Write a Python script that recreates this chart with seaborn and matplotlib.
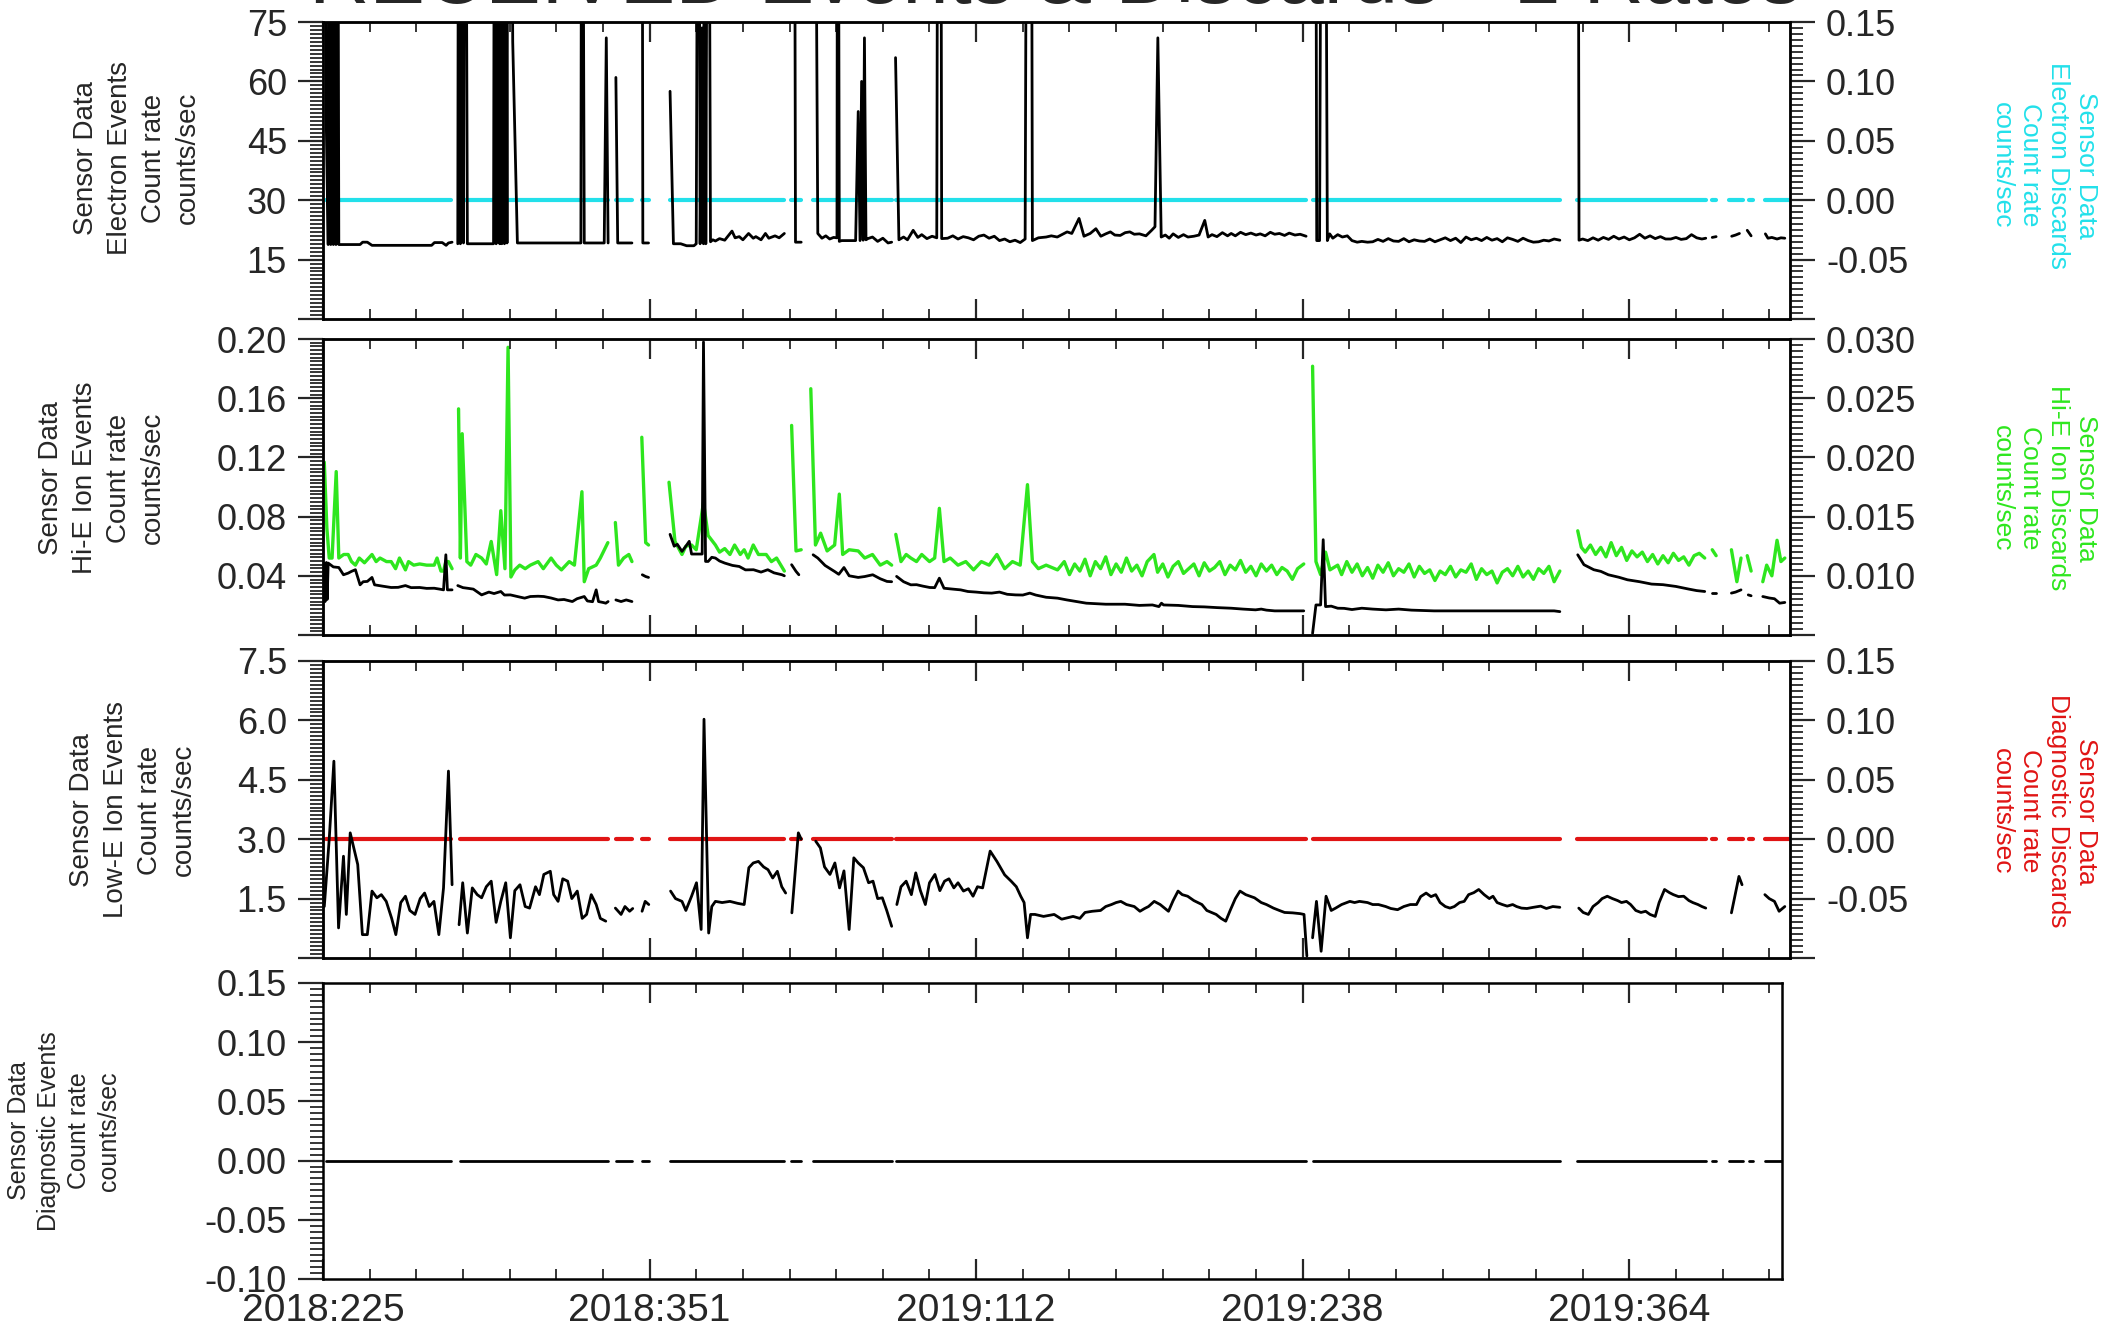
import numpy as np
import pandas as pd
import matplotlib
matplotlib.use("Agg")
import matplotlib.pyplot as plt
from matplotlib.ticker import MultipleLocator
import seaborn as sns

nan = np.nan
G = (nan, nan)  # data gap

# x axis = days after 2018:225
tick_days = [0, 126, 252, 378, 504]
tick_labels = ["2018:225", "2018:351", "2019:112", "2019:238", "2019:364"]
x_end = 566

title = "RECEIVED Events & Discards - 1 Rates"

# discards and diagnostic events are zero wherever data exist
zero_rate = [
    (1.0, 0), (49.5, 0), G, (52.8, 0), (110.0, 0), G, (113.0, 0), (119.2, 0), G,
    (123.0, 0), (125.6, 0), G, (133.9, 0), (178.0, 0), G, (180.5, 0), (184.5, 0), G,
    (189.0, 0), (219.4, 0), G, (221.0, 0), (379.3, 0), G, (381.8, 0), (477.2, 0), G,
    (484.0, 0), (533.5, 0), G, (535.8, 0), (537.6, 0), G, (542.5, 0), (548.0, 0), G,
    (550.0, 0), (551.8, 0), G, (556.5, 0), (566.0, 0),
]

# panel 1 - electron events (counts/sec), 200 = off scale
electron_events = [
    (0.3, 200), (1.2, 52), (2.0, 18.8), (2.5, 200), (3.0, 18.8), (3.5, 200),
    (4.0, 18.8), (4.5, 200), (5.0, 18.8), (5.5, 200), (6.1, 18.8), (14.3, 18.8),
    (15.3, 19.4), (17.1, 19.4), (18.9, 18.6), (30.0, 18.6), (41.9, 18.6),
    (43.0, 19.3), (46.0, 19.3), (47.5, 18.6), (48.4, 19.2), (49.8, 19.4), G,
    (52.0, 19.0), (52.4, 200), (53.0, 19.0), (53.5, 200), (54.2, 19.2), (54.8, 200),
    (55.7, 19.0), (60.0, 19.0), (65.8, 19.0), (66.3, 200), (66.8, 19.0), (67.7, 200),
    (68.2, 19.0), (68.6, 200), (69.0, 19.0), (69.5, 200), (70.0, 19.0), (70.4, 200),
    (71.0, 19.2), (71.4, 200), (72.3, 200), (73.2, 70), (75.0, 19.2), (99.5, 19.2),
    (99.9, 200), (100.8, 19.2), (108.5, 19.2), (109.3, 71), (110.0, 19.2), G,
    (113.0, 61), (113.7, 19.2), (119.2, 19.2), G,
    (123.0, 200), (123.4, 19.2), (125.6, 19.2), G,
    (133.9, 57.5), (135.2, 19.0), (138.0, 19.0), (140.3, 18.5), (143.1, 18.5),
    (144.0, 19.0), (144.9, 200), (145.5, 19.0), (146.2, 73.5), (146.8, 19.0),
    (147.3, 200), (147.7, 19.0), (148.6, 200), (149.5, 19.5), (150.4, 20.0),
    (151.4, 19.7), (153.0, 20.3), (155.0, 19.9), (157.8, 22.2), (159.0, 20.5),
    (160.6, 20.8), (162.0, 20.0), (164.2, 21.6), (166.0, 20.4), (167.0, 20.8),
    (169.0, 20.0), (170.7, 21.6), (172.0, 20.4), (174.4, 21.0), (176.0, 20.5),
    (178.0, 21.6), G,
    (181.7, 200), (182.3, 19.4), (184.5, 19.4), G,
    (189.4, 200), (190.9, 21.6), (192.5, 20.4), (194.0, 21.0), (195.5, 20.2),
    (197.0, 20.6), (198.3, 20.5), (198.6, 200), (199.2, 19.6), (200.1, 19.8),
    (204.0, 19.8), (205.5, 19.8), (206.5, 52.4), (207.2, 19.8), (207.8, 60),
    (208.4, 19.9), (208.9, 71), (209.5, 20.0), (210.2, 20.3), (212.0, 20.7),
    (214.0, 19.6), (216.0, 20.4), (218.0, 19.2), (219.4, 19.4), G,
    (220.9, 66), (222.2, 20.0), (224.0, 20.7), (225.5, 20.0), (227.7, 22.4),
    (229.5, 20.6), (231.0, 21.3), (233.0, 20.3), (235.0, 20.9), (236.8, 20.5),
    (237.4, 200), (238.2, 200), (238.7, 20.3), (241.0, 20.4), (243.0, 21.0),
    (245.0, 20.2), (247.0, 20.8), (249.0, 20.5), (251.0, 20.0), (253.0, 20.9),
    (255.0, 21.2), (257.0, 20.4), (259.0, 20.9), (261.0, 19.8), (263.0, 20.2),
    (265.0, 19.5), (267.0, 19.9), (269.0, 19.3), (270.9, 20.2), (271.8, 200),
    (273.1, 200), (273.7, 19.8), (276.0, 20.5), (279.0, 20.7), (281.0, 21.0),
    (283.3, 20.7), (287.1, 22.0), (288.9, 21.6), (291.7, 25.4), (293.6, 20.9),
    (296.0, 21.6), (298.2, 22.8), (300.1, 20.9), (302.0, 21.5), (303.8, 22.0),
    (305.5, 21.2), (307.6, 21.1), (309.5, 21.8), (311.3, 22.0), (313.0, 21.4),
    (315.0, 21.5), (317.5, 21.0), (319.7, 22.4), (321.0, 23.3), (322.1, 71),
    (323.4, 20.7), (325.0, 21.2), (326.5, 20.4), (328.0, 21.5), (330.0, 20.6),
    (332.0, 21.3), (333.7, 20.7), (336.0, 20.9), (338.0, 21.2), (340.2, 24.9),
    (341.5, 20.7), (343.0, 21.3), (344.9, 20.8), (347.0, 21.8), (349.0, 21.0),
    (350.4, 21.6), (352.0, 21.0), (354.0, 21.9), (356.0, 21.3), (358.0, 21.7),
    (360.0, 21.2), (361.6, 21.5), (363.5, 21.0), (365.5, 21.9), (367.2, 21.4),
    (369.0, 21.6), (371.0, 21.1), (372.8, 21.7), (375.0, 21.2), (377.0, 21.4),
    (379.3, 20.9), G,
    (381.8, 200), (382.8, 200), (383.4, 19.8), (384.5, 19.8), (385.5, 200),
    (386.4, 200), (387.5, 19.8), (388.4, 21.5), (389.6, 20.4), (391.5, 21.3),
    (393.3, 20.7), (395.2, 21.0), (397.0, 19.8), (399.0, 19.4), (400.8, 19.6),
    (403.0, 19.4), (405.0, 19.5), (407.0, 20.1), (409.0, 19.6), (411.0, 20.3),
    (413.0, 19.7), (415.0, 19.6), (417.0, 20.3), (419.0, 19.5), (421.0, 20.0),
    (423.0, 19.7), (425.0, 19.6), (427.0, 20.2), (429.0, 19.5), (431.0, 20.0),
    (433.0, 20.5), (435.0, 19.8), (437.0, 20.4), (439.0, 19.3), (441.0, 20.7),
    (443.0, 20.0), (445.0, 20.4), (447.0, 19.8), (449.0, 20.6), (451.0, 19.9),
    (453.0, 20.3), (455.0, 19.5), (457.0, 20.5), (459.0, 20.1), (461.0, 19.6),
    (463.0, 20.4), (465.0, 19.8), (467.0, 19.4), (469.0, 19.5), (471.0, 19.9),
    (473.0, 19.7), (475.0, 20.2), (477.2, 19.9), G,
    (484.1, 200), (484.6, 19.9), (486.0, 20.2), (488.0, 19.8), (490.0, 20.5),
    (492.0, 19.9), (494.0, 20.6), (496.0, 20.1), (498.0, 20.9), (500.0, 20.2),
    (502.0, 20.7), (504.0, 20.0), (506.0, 20.5), (508.0, 21.4), (510.0, 20.4),
    (512.0, 21.0), (514.0, 20.3), (516.0, 20.8), (518.0, 20.2), (520.0, 20.2),
    (522.0, 20.6), (524.0, 20.1), (526.0, 20.3), (528.0, 21.3), (530.0, 20.5),
    (532.0, 20.2), (533.5, 20.4), G,
    (536.0, 20.6), (537.5, 20.8), G, (543.5, 20.9), (545.0, 21.2), (546.5, 21.6), G,
    (549.5, 22.4), (551.0, 21.0), G, (556.5, 21.5), (557.5, 20.4), (559.0, 20.6),
    (561.0, 20.2), (562.5, 20.5), (564.0, 20.4),
]

# panel 2 - Hi-E ion events (left axis)
hie_events = [
    (0.3, 0.0486), (0.8, 0.0226), (1.3, 0.049), (1.6, 0.024), (2.0, 0.0486),
    (4.0, 0.046), (6.1, 0.0456), (7.9, 0.0407), (9.7, 0.0418), (11.0, 0.043),
    (12.5, 0.0441), (14.3, 0.0339), (15.5, 0.036), (17.1, 0.0362), (18.9, 0.0389),
    (19.9, 0.0339), (23.0, 0.033), (26.3, 0.0321), (29.0, 0.0322), (31.8, 0.0334),
    (34.0, 0.032), (37.3, 0.0321), (40.0, 0.0315), (42.9, 0.0316), (45.0, 0.031),
    (46.5, 0.0305), (47.4, 0.0542), (48.0, 0.0305), (49.8, 0.0305), G,
    (52.0, 0.0334), (54.0, 0.032), (55.7, 0.0316), (58.0, 0.031), (61.2, 0.0271),
    (64.0, 0.029), (66.0, 0.028), (68.6, 0.0294), (70.0, 0.027), (72.3, 0.0271),
    (75.0, 0.026), (77.8, 0.0249), (80.0, 0.026), (83.0, 0.0262), (85.2, 0.026),
    (88.0, 0.025), (90.7, 0.0237), (93.0, 0.024), (96.2, 0.0226), (98.0, 0.0245),
    (100.8, 0.026), (102.0, 0.023), (104.0, 0.0225), (105.4, 0.0305),
    (106.3, 0.0226), (108.0, 0.022), (109.1, 0.0215), (110.0, 0.0226), G,
    (113.0, 0.0237), (115.0, 0.0226), (117.0, 0.0237), (119.2, 0.0226), G,
    (123.2, 0.0407), (124.5, 0.0395), (125.6, 0.0389), G,
    (133.9, 0.068), (135.5, 0.060), (136.7, 0.0613), (138.5, 0.0565), (140.0, 0.060),
    (141.3, 0.0633), (142.2, 0.0547), (144.0, 0.0547), (146.3, 0.0547),
    (146.8, 0.198), (147.6, 0.0497), (148.6, 0.0497), (150.0, 0.0525),
    (151.4, 0.0520), (153.0, 0.050), (155.0, 0.0486), (158.0, 0.047),
    (160.6, 0.0463), (163.0, 0.044), (166.1, 0.0441), (169.0, 0.0425),
    (171.6, 0.0441), (174.0, 0.042), (177.1, 0.0407), (178.0, 0.040), G,
    (180.8, 0.0475), (182.5, 0.043), (183.6, 0.0407), G,
    (189.1, 0.0542), (190.9, 0.052), (193.7, 0.047), (195.5, 0.045), (197.4, 0.0429),
    (199.0, 0.041), (201.0, 0.0456), (203.0, 0.040), (206.5, 0.0389),
    (209.0, 0.0395), (212.1, 0.0407), (215.0, 0.038), (217.6, 0.0362),
    (219.4, 0.036), G,
    (221.3, 0.0396), (224.0, 0.036), (226.8, 0.0339), (229.0, 0.034),
    (231.5, 0.033), (234.1, 0.0321), (236.0, 0.032), (237.8, 0.0384),
    (239.6, 0.0316), (243.0, 0.031), (246.0, 0.0305), (248.8, 0.0294),
    (252.0, 0.029), (255.0, 0.0285), (258.0, 0.0283), (261.0, 0.029),
    (264.0, 0.0275), (267.2, 0.0271), (270.0, 0.027), (272.7, 0.0283),
    (275.0, 0.027), (279.0, 0.0255), (283.4, 0.0249), (287.0, 0.0237),
    (294.5, 0.0215), (302.0, 0.0208), (309.4, 0.0208), (315.0, 0.020),
    (320.0, 0.0203), (322.5, 0.0192), (323.5, 0.0215), (324.3, 0.0203),
    (330.0, 0.0200), (335.5, 0.0192), (340.0, 0.019), (345.0, 0.0185),
    (350.4, 0.0181), (355.0, 0.0175), (359.8, 0.017), (362.0, 0.0175),
    (364.0, 0.0168), (367.2, 0.0163), (372.0, 0.0163), (378.4, 0.0163), G,
    (381.8, 0.0011), (383.1, 0.0203), (384.9, 0.0203), (385.9, 0.0644),
    (386.8, 0.0192), (389.0, 0.0195), (391.5, 0.0181), (394.0, 0.018),
    (397.0, 0.0172), (400.8, 0.0181), (405.0, 0.0175), (410.1, 0.017),
    (415.0, 0.0175), (420.0, 0.0168), (428.7, 0.0163), (440.0, 0.0163),
    (447.4, 0.0163), (460.0, 0.0163), (466.0, 0.0163), (475.0, 0.0163),
    (477.2, 0.0158), G,
    (484.1, 0.0542), (486.5, 0.0475), (490.3, 0.0441), (493.0, 0.043),
    (495.9, 0.0407), (500.0, 0.039), (503.3, 0.0373), (508.0, 0.036),
    (512.6, 0.0344), (517.0, 0.034), (522.0, 0.0328), (527.0, 0.031),
    (530.0, 0.030), (533.1, 0.0294), G,
    (536.0, 0.0283), (537.5, 0.0283), G, (543.4, 0.0283), (545.0, 0.029),
    (547.1, 0.0305), G, (549.9, 0.0271), (551.0, 0.0265), G, (555.5, 0.026),
    (558.0, 0.025), (560.0, 0.0245), (562.0, 0.0215), (564.0, 0.022),
]

# panel 2 - Hi-E ion discards (right axis)
hie_discards = [
    (0.5, 0.0196), (1.5, 0.0140), (2.4, 0.0115), (3.5, 0.0115), (5.1, 0.0188),
    (6.1, 0.0115), (8.0, 0.0118), (9.7, 0.0118), (11.0, 0.0112), (12.5, 0.0109),
    (14.0, 0.0115), (16.0, 0.0111), (18.9, 0.0118), (20.5, 0.0112), (22.0, 0.0115),
    (24.5, 0.0112), (26.3, 0.0112), (28.0, 0.0106), (29.5, 0.0115), (31.8, 0.0105),
    (33.0, 0.0112), (35.0, 0.0109), (37.3, 0.0110), (40.0, 0.0109), (42.9, 0.0109),
    (44.0, 0.0115), (45.5, 0.0104), (46.5, 0.0104), (47.4, 0.0112), (48.4, 0.0112),
    (49.8, 0.0106), G,
    (52.3, 0.0241), (53.0, 0.0115), (53.7, 0.0220), (55.5, 0.0112), (57.0, 0.0109),
    (59.0, 0.0118), (61.2, 0.0115), (63.0, 0.0110), (64.9, 0.0129), (67.0, 0.0101),
    (68.6, 0.0155), (70.2, 0.0106), (71.4, 0.0293), (72.5, 0.0099), (74.0, 0.0105),
    (75.9, 0.0109), (78.0, 0.0106), (80.0, 0.0109), (83.0, 0.0112), (85.0, 0.0106),
    (88.0, 0.0115), (90.0, 0.0109), (92.0, 0.0105), (95.0, 0.0112), (97.0, 0.0109),
    (99.9, 0.0171), (100.8, 0.0095), (102.5, 0.0106), (105.4, 0.0109),
    (107.0, 0.0115), (109.9, 0.0128), G,
    (112.8, 0.0145), (114.0, 0.0109), (116.0, 0.0115), (118.0, 0.0118),
    (119.2, 0.0112), G,
    (123.0, 0.0217), (124.5, 0.0128), (125.6, 0.0126), G,
    (133.5, 0.0179), (135.8, 0.0129), (138.5, 0.0118), (140.0, 0.0125),
    (142.2, 0.0126), (144.0, 0.0122), (146.8, 0.0162), (148.6, 0.0134),
    (151.4, 0.0126), (153.0, 0.0120), (155.0, 0.0123), (157.0, 0.0118),
    (158.8, 0.0126), (161.0, 0.0118), (162.5, 0.0122), (164.0, 0.0115),
    (166.0, 0.0126), (168.0, 0.0118), (171.0, 0.0118), (173.0, 0.0112),
    (175.0, 0.0115), (178.0, 0.0104), G,
    (180.8, 0.0227), (182.5, 0.0121), (184.5, 0.0122), G,
    (188.2, 0.0258), (190.0, 0.0126), (192.0, 0.0136), (194.5, 0.0121),
    (197.4, 0.0126), (199.2, 0.0169), (200.5, 0.0118), (203.0, 0.0122),
    (206.5, 0.0121), (209.0, 0.0115), (212.0, 0.0118), (215.0, 0.0109),
    (217.6, 0.0112), (219.4, 0.0109), G,
    (221.0, 0.0135), (223.0, 0.0112), (225.0, 0.0118), (226.8, 0.0115),
    (229.0, 0.0112), (231.0, 0.0118), (234.0, 0.0112), (236.0, 0.0115),
    (237.8, 0.0157), (239.6, 0.0112), (242.0, 0.0115), (245.0, 0.0109),
    (248.0, 0.0112), (251.0, 0.0105), (254.0, 0.0112), (257.0, 0.0109),
    (260.0, 0.0118), (263.0, 0.0106), (266.0, 0.0112), (269.0, 0.0109),
    (271.8, 0.0177), (273.7, 0.0112), (276.0, 0.0106), (279.0, 0.0109),
    (283.4, 0.0105), (286.0, 0.0112), (288.0, 0.0101), (290.0, 0.0110),
    (292.0, 0.0104), (294.0, 0.0114), (296.0, 0.0100), (298.0, 0.0112),
    (300.0, 0.0106), (302.0, 0.0116), (304.0, 0.0101), (306.0, 0.0110),
    (308.0, 0.0103), (310.0, 0.0115), (312.0, 0.0104), (314.0, 0.0109),
    (316.0, 0.0100), (318.0, 0.0112), (320.6, 0.0118), (322.0, 0.0103),
    (324.0, 0.0110), (326.0, 0.0099), (328.0, 0.0108), (330.0, 0.0112),
    (332.0, 0.0102), (334.0, 0.0106), (336.0, 0.0110), (338.0, 0.0100),
    (340.0, 0.0111), (342.0, 0.0104), (344.0, 0.0107), (346.0, 0.0112),
    (348.0, 0.0101), (350.0, 0.0109), (352.0, 0.0105), (354.0, 0.0113),
    (356.0, 0.0103), (358.0, 0.0108), (360.0, 0.0100), (362.0, 0.0110),
    (364.0, 0.0104), (366.0, 0.0109), (368.0, 0.0101), (370.0, 0.0107),
    (372.0, 0.0104), (374.0, 0.0097), (376.0, 0.0106), (378.4, 0.0110), G,
    (381.8, 0.0277), (383.1, 0.0112), (384.9, 0.0101), (386.8, 0.0120),
    (388.5, 0.0105), (391.5, 0.0109), (393.0, 0.0101), (395.0, 0.0112),
    (397.0, 0.0103), (399.0, 0.0110), (401.0, 0.0100), (403.0, 0.0107),
    (405.0, 0.0098), (407.0, 0.0109), (409.0, 0.0103), (411.0, 0.0111),
    (413.0, 0.0100), (415.0, 0.0106), (417.0, 0.0103), (419.0, 0.0110),
    (421.0, 0.0099), (423.0, 0.0108), (425.0, 0.0102), (427.0, 0.0105),
    (429.0, 0.0096), (431.0, 0.0104), (433.0, 0.0101), (435.0, 0.0108),
    (437.0, 0.0099), (439.0, 0.0105), (441.0, 0.0103), (443.0, 0.0110),
    (445.0, 0.0097), (447.0, 0.0106), (449.0, 0.0101), (451.0, 0.0104),
    (453.0, 0.0094), (455.0, 0.0103), (457.0, 0.0106), (459.0, 0.0100),
    (461.0, 0.0108), (463.0, 0.0099), (465.0, 0.0104), (467.0, 0.0097),
    (469.0, 0.0106), (471.0, 0.0102), (473.0, 0.0108), (475.0, 0.0095),
    (477.2, 0.0104), G,
    (484.1, 0.0138), (485.5, 0.0124), (487.0, 0.0120), (489.0, 0.0126),
    (491.0, 0.0118), (493.0, 0.0124), (495.0, 0.0116), (497.0, 0.0128),
    (499.0, 0.0117), (501.0, 0.0124), (503.0, 0.0113), (505.0, 0.0121),
    (507.0, 0.0116), (509.0, 0.0120), (511.0, 0.0112), (513.0, 0.0118),
    (515.0, 0.0110), (517.0, 0.0117), (519.0, 0.0111), (521.0, 0.0119),
    (523.0, 0.0113), (525.0, 0.0116), (527.0, 0.0109), (529.0, 0.0117),
    (531.0, 0.0119), (533.1, 0.0115), G,
    (536.0, 0.0122), (537.5, 0.0117), G, (543.4, 0.0122), (545.5, 0.0095),
    (547.1, 0.0115), G, (549.5, 0.0117), (551.0, 0.0104), G, (555.5, 0.0095),
    (557.0, 0.0109), (559.0, 0.0100), (561.0, 0.0130), (562.5, 0.0112),
    (564.0, 0.0115),
]

# panel 3 - Low-E ion events (left axis)
loe_events = [
    (0.5, 1.3), (2.4, 3.0), (4.2, 4.97), (6.0, 0.76), (7.9, 2.57), (9.0, 1.10),
    (10.5, 3.16), (13.4, 2.36), (15.2, 0.59), (17.1, 0.59), (18.9, 1.69),
    (20.8, 1.52), (22.5, 1.60), (24.4, 1.43), (26.5, 1.0), (28.1, 0.59),
    (30.0, 1.4), (31.8, 1.56), (33.5, 1.2), (35.5, 1.10), (37.5, 1.5),
    (39.2, 1.64), (41.0, 1.3), (42.8, 1.43), (44.7, 0.59), (46.5, 1.77),
    (48.4, 4.72), (49.8, 1.85), G,
    (52.5, 0.84), (53.9, 1.90), (55.7, 0.63), (57.6, 1.77), (59.5, 1.6),
    (61.2, 1.52), (63.0, 1.8), (64.9, 1.94), (66.8, 0.9), (68.6, 1.43),
    (70.5, 1.9), (72.3, 0.51), (74.0, 1.7), (76.0, 1.85), (78.0, 1.3),
    (79.7, 1.26), (82.0, 1.8), (83.5, 1.6), (85.2, 2.11), (87.7, 2.19),
    (89.0, 1.6), (90.7, 1.43), (92.5, 2.0), (94.4, 1.94), (96.0, 1.5),
    (98.1, 1.69), (100.0, 1.0), (101.7, 1.10), (103.5, 1.6), (105.4, 1.35),
    (107.0, 1.0), (109.1, 0.93), G,
    (112.8, 1.26), (115.0, 1.1), (116.5, 1.3), (118.3, 1.18), (119.5, 1.25), G,
    (123.1, 1.18), (124.3, 1.43), (125.7, 1.35), G,
    (134.1, 1.69), (136.0, 1.5), (138.5, 1.43), (140.0, 1.2), (142.2, 1.56),
    (144.1, 1.90), (145.9, 0.72), (147.0, 6.03), (148.8, 0.63), (150.0, 1.3),
    (151.4, 1.43), (154.0, 1.4), (157.0, 1.43), (160.0, 1.38), (162.5, 1.35),
    (164.3, 2.28), (166.0, 2.4), (168.0, 2.44), (170.0, 2.3), (171.7, 2.23),
    (173.5, 2.02), (175.3, 2.19), (177.0, 1.8), (178.5, 1.64), G,
    (180.9, 1.14), (183.4, 3.16), (184.5, 3.0), G,
    (190.1, 2.95), (191.9, 2.78), (193.5, 2.3), (195.6, 2.11), (197.5, 2.4),
    (199.3, 1.77), (201.0, 2.2), (203.0, 0.72), (204.8, 2.53), (206.5, 2.4),
    (208.5, 2.28), (210.5, 1.9), (212.2, 1.94), (214.0, 1.5), (215.8, 1.52),
    (217.5, 1.2), (219.4, 0.80), G,
    (221.4, 1.35), (223.0, 1.8), (225.0, 1.94), (227.0, 1.6), (228.7, 2.15),
    (230.5, 1.7), (232.4, 1.35), (234.0, 1.9), (236.1, 2.11), (238.0, 1.7),
    (239.8, 1.94), (241.5, 2.0), (243.4, 1.77), (245.0, 1.9), (247.1, 1.69),
    (249.0, 1.75), (250.8, 1.56), (252.5, 1.8), (254.5, 1.77), (257.4, 2.70),
    (260.0, 2.44), (263.0, 2.1), (265.5, 1.94), (267.5, 1.8), (269.2, 1.56),
    (270.5, 1.4), (271.8, 0.51), (273.0, 1.10), (274.7, 1.10), (278.0, 1.05),
    (282.1, 1.10), (285.0, 0.98), (289.4, 1.05), (292.0, 1.0), (294.0, 1.15),
    (296.8, 1.18), (300.0, 1.2), (302.0, 1.3), (304.2, 1.35), (306.0, 1.4),
    (307.8, 1.43), (310.0, 1.35), (313.0, 1.3), (315.2, 1.18), (317.0, 1.25),
    (318.5, 1.3), (320.7, 1.43), (323.0, 1.35), (326.2, 1.18), (328.0, 1.45),
    (329.9, 1.69), (331.5, 1.6), (333.6, 1.56), (336.0, 1.45), (339.1, 1.35),
    (341.0, 1.2), (344.6, 1.10), (346.5, 1.0), (348.3, 0.93), (350.0, 1.2),
    (352.0, 1.5), (353.8, 1.69), (356.0, 1.6), (359.4, 1.52), (362.0, 1.4),
    (364.0, 1.35), (366.7, 1.26), (369.0, 1.2), (371.0, 1.15), (374.1, 1.14),
    (377.0, 1.12), (378.5, 1.10), (379.6, 0.05), G,
    (381.8, 0.51), (383.3, 1.43), (385.1, 0.17), (387.0, 1.56), (389.0, 1.2),
    (390.7, 1.26), (393.0, 1.35), (396.2, 1.43), (398.0, 1.4), (399.9, 1.43),
    (403.0, 1.4), (405.0, 1.35), (407.2, 1.35), (410.0, 1.3), (412.0, 1.25),
    (414.6, 1.22), (417.0, 1.3), (419.5, 1.35), (421.9, 1.35), (423.5, 1.55),
    (425.6, 1.64), (427.5, 1.55), (429.3, 1.60), (431.0, 1.4), (433.0, 1.3),
    (434.8, 1.26), (436.5, 1.3), (438.5, 1.4), (440.3, 1.43), (442.0, 1.6),
    (444.0, 1.65), (445.9, 1.73), (448.0, 1.6), (450.0, 1.5), (451.4, 1.56),
    (453.0, 1.4), (455.0, 1.35), (456.9, 1.31), (459.0, 1.35), (460.5, 1.3),
    (462.4, 1.26), (464.5, 1.25), (467.0, 1.28), (469.8, 1.31), (472.0, 1.25),
    (474.5, 1.3), (477.2, 1.28), G,
    (484.5, 1.26), (486.2, 1.15), (488.2, 1.10), (490.0, 1.3), (492.0, 1.4),
    (493.5, 1.5), (495.5, 1.56), (497.5, 1.5), (499.5, 1.45), (501.0, 1.4),
    (502.9, 1.43), (504.5, 1.35), (506.5, 1.2), (508.5, 1.15), (510.3, 1.18),
    (512.0, 1.1), (514.0, 1.05), (515.5, 1.4), (517.6, 1.73), (519.5, 1.65),
    (521.0, 1.6), (523.0, 1.55), (525.0, 1.56), (527.0, 1.45), (528.5, 1.4),
    (530.5, 1.35), (532.0, 1.3), (533.5, 1.26), G,
    (543.4, 1.14), (546.3, 2.06), (547.5, 1.85), G,
    (556.3, 1.60), (558.0, 1.5), (560.0, 1.43), (561.8, 1.18), (564.0, 1.3),
]

# y axes: (limits, tick values, tick labels, minor step)
p1_left = ((0, 75), [0, 15, 30, 45, 60, 75], ["", "15", "30", "45", "60", "75"], 1)
p1_right = ((-0.10, 0.15), [-0.10, -0.05, 0.0, 0.05, 0.10, 0.15],
            ["", "-0.05", "0.00", "0.05", "0.10", "0.15"], 0.005)
p2_left = ((0, 0.20), [0, 0.04, 0.08, 0.12, 0.16, 0.20],
           ["", "0.04", "0.08", "0.12", "0.16", "0.20"], 0.0025)
p2_right = ((0.005, 0.030), [0.005, 0.010, 0.015, 0.020, 0.025, 0.030],
            ["", "0.010", "0.015", "0.020", "0.025", "0.030"], 0.0005)
p3_left = ((0, 7.5), [0, 1.5, 3.0, 4.5, 6.0, 7.5], ["", "1.5", "3.0", "4.5", "6.0", "7.5"], 0.1)
p3_right = p1_right
p4_left = ((-0.10, 0.15), [-0.10, -0.05, 0.0, 0.05, 0.10, 0.15],
           ["-0.10", "-0.05", "0.00", "0.05", "0.10", "0.15"], 0.005)

left_titles = [
    "Sensor Data\nElectron Events\nCount rate\ncounts/sec",
    "Sensor Data\nHi-E Ion Events\nCount rate\ncounts/sec",
    "Sensor Data\nLow-E Ion Events\nCount rate\ncounts/sec",
    "Sensor Data\nDiagnostic Events\nCount rate\ncounts/sec",
]
right_titles = [
    "Sensor Data\nElectron Discards\nCount rate\ncounts/sec",
    "Sensor Data\nHi-E Ion Discards\nCount rate\ncounts/sec",
    "Sensor Data\nDiagnostic Discards\nCount rate\ncounts/sec",
]
CYAN, GREEN, RED = "#22e0ea", "#2ee61e", "#e01414"

sns.set_theme(style="ticks")
plt.rcParams["font.family"] = ["Liberation Sans", "DejaVu Sans"]

W, H = 2111, 1330
fig = plt.figure(figsize=(W / 100, H / 100), dpi=100)


def box(x0, y0, x1, y1):
    return [x0 / W, 1 - y1 / H, (x1 - x0) / W, (y1 - y0) / H]


def to_frame(pairs):
    df = pd.DataFrame(pairs, columns=["day", "rate"])
    df["seg"] = df["rate"].isna().cumsum()
    return df.dropna()


def draw(ax, pairs, color, lw):
    sns.lineplot(data=to_frame(pairs), x="day", y="rate", units="seg", estimator=None,
                 sort=False, color=color, linewidth=lw, ax=ax, legend=False)
    ax.set_xlabel("")
    ax.set_ylabel("")


def style_y(ax, spec, side):
    lim, ticks, labels, minor = spec
    ax.set_ylim(*lim)
    ax.set_yticks(ticks, labels)
    ax.yaxis.set_minor_locator(MultipleLocator(minor))
    ax.tick_params(axis="y", which="major", direction="out", length=18, width=1.6,
                   labelsize=26, pad=8, left=(side == "left"), right=(side == "right"),
                   labelleft=(side == "left"), labelright=(side == "right"))
    ax.tick_params(axis="y", which="minor", direction="out", length=9.5, width=1.3,
                   left=(side == "left"), right=(side == "right"))


def style_x(ax, xmax, labels):
    ax.set_xlim(0, xmax)
    ax.set_xticks(tick_days, tick_labels if labels else [""] * len(tick_days))
    ax.xaxis.set_minor_locator(MultipleLocator(18))
    ax.tick_params(axis="x", which="major", direction="in", length=14.5, width=1.6,
                   top=True, bottom=True, labelsize=28, pad=10)
    ax.tick_params(axis="x", which="minor", direction="in", length=7.5, width=1.3,
                   top=True, bottom=True)
    for s in ax.spines.values():
        s.set_linewidth(1.8)
        s.set_color("black")


rows = [(22, 319), (339, 635), (661, 958)]
lefts = [p1_left, p2_left, p3_left]
rights = [p1_right, p2_right, p3_right]
series = [
    (electron_events, zero_rate, CYAN),
    (hie_events, hie_discards, GREEN),
    (loe_events, zero_rate, RED),
]

for i, (y0, y1) in enumerate(rows):
    ax = fig.add_axes(box(323, y0, 1790, y1))
    events, discards, col = series[i]
    draw(ax, events, "black", 2.0)
    style_x(ax, x_end, False)
    style_y(ax, lefts[i], "left")
    ax2 = ax.twinx()
    draw(ax2, discards, col, 2.4 if col == GREEN else 3.0)
    style_y(ax2, rights[i], "right")
    for s in ax2.spines.values():
        s.set_linewidth(1.8)
    ax.set_zorder(ax2.get_zorder() + 1)
    ax.patch.set_visible(False)

ax4 = fig.add_axes(box(323, 983, 1782, 1279))
draw(ax4, zero_rate, "black", 2.0)
style_x(ax4, x_end * (1782 - 323) / (1790 - 323), True)
style_y(ax4, p4_left, "left")

# axis titles
left_x = [137, 102, 133, 64]
left_y = [158, 478, 810, 1131]
for i, txt in enumerate(left_titles):
    fig.text(left_x[i] / W, 1 - left_y[i] / H, txt, rotation=90, ha="center", va="center",
             multialignment="center", fontsize=18 if i == 3 else 20,
             linespacing=1.3 if i == 3 else 1.4)
right_y = [165, 488, 811]
for i, txt in enumerate(right_titles):
    fig.text(2044 / W, 1 - right_y[i] / H, txt, rotation=270, ha="center", va="center",
             multialignment="center", fontsize=19, linespacing=1.2,
             color=series[i][2])

# title sits mostly above the canvas, only the bottom of the letters shows
fig.text(0.5, 1 - 3 / H, title, ha="center", va="baseline", fontsize=60)

fig.savefig("out.png", dpi=100)
